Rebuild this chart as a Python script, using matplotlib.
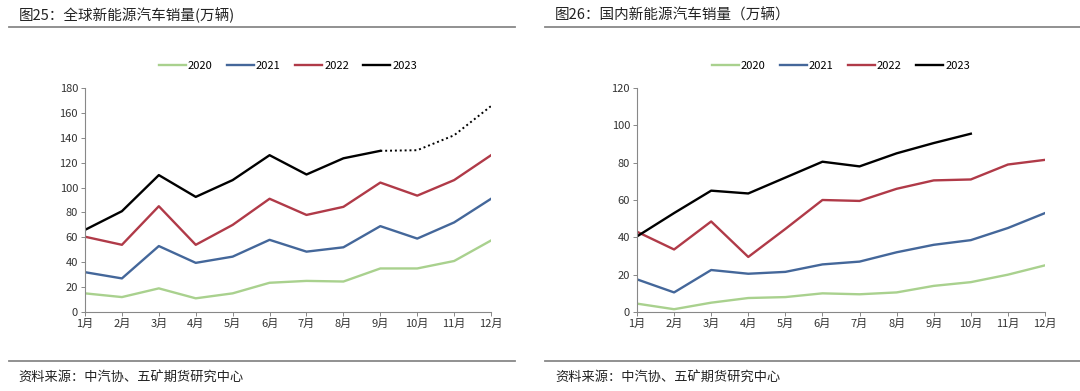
import matplotlib
matplotlib.use("Agg")
import matplotlib.pyplot as plt

plt.rcParams['font.family'] = ['Noto Sans CJK SC', 'DejaVu Sans']

months = ["1月", "2月", "3月", "4月", "5月", "6月", "7月", "8月", "9月", "10月", "11月", "12月"]
years = ["2020", "2021", "2022", "2023"]
colors = ["#A9D18E", "#44679A", "#B03A48", "#000000"]

# 图25 全球
global_2020 = [15, 12, 19, 11, 15, 23.5, 25, 24.5, 35, 35, 41, 57.5]
global_2021 = [32, 27, 53, 39.5, 44.5, 58, 48.5, 52, 69, 59, 72, 91]
global_2022 = [60.5, 54, 85, 54, 70, 91, 78, 84.5, 104, 93.5, 106, 126]
global_2023 = [66, 81, 110, 92.5, 106, 126, 110.5, 123.5, 129.5]
global_2023_est = [129.5, 130, 142, 165.5]  # 9-12月 虚线

# 图26 国内
china_2020 = [4.5, 1.5, 5, 7.5, 8, 10, 9.5, 10.5, 14, 16, 20, 25]
china_2021 = [17.5, 10.5, 22.5, 20.5, 21.5, 25.5, 27, 32, 36, 38.5, 45, 53]
china_2022 = [43, 33.5, 48.5, 29.5, 44.5, 60, 59.5, 66, 70.5, 71, 79, 81.5]
china_2023 = [40.5, 53, 65, 63.5, 72, 80.5, 78, 85, 90.5, 95.5]

fig = plt.figure(figsize=(10.8, 3.91), dpi=100)


def draw_panel(ax, series, ymax, step):
    for name, vals, c in zip(years, series, colors):
        ax.plot(range(len(vals)), vals, color=c, lw=1.7, label=name)
    ax.set_xlim(0, 11)
    ax.set_ylim(0, ymax)
    ax.set_yticks(range(0, ymax + 1, step))
    ax.set_xticks(range(12))
    ax.set_xticklabels(months)
    for s in ["top", "right"]:
        ax.spines[s].set_visible(False)
    for s in ["left", "bottom"]:
        ax.spines[s].set_color("#888888")
        ax.spines[s].set_linewidth(0.8)
    ax.tick_params(axis="both", labelsize=8, colors="#333333", length=3, width=0.7, pad=2)
    ax.tick_params(axis="both", color="#888888")
    ax.legend(loc="lower center", bbox_to_anchor=(0.5, 1.03), ncol=4, frameon=False,
              fontsize=8, handlelength=2.4, handletextpad=0.2, columnspacing=1.3)


ax1 = fig.add_axes([0.0787, 0.202, 0.376, 0.573])
draw_panel(ax1, [global_2020, global_2021, global_2022, global_2023], 180, 20)
ax1.plot(range(8, 12), global_2023_est, color="#000000", lw=1.4, ls=(0, (1, 1.5)))

ax2 = fig.add_axes([0.5898, 0.202, 0.3778, 0.573])
draw_panel(ax2, [china_2020, china_2021, china_2022, china_2023], 120, 20)

# 标题、分隔线、资料来源
for x0, x1, title in [(0.008, 0.477, "图25：全球新能源汽车销量(万辆)"),
                      (0.505, 1.0, "图26：国内新能源汽车销量（万辆）")]:
    fig.text(x0 + 0.009, 0.960, title, fontsize=10.5, fontweight="medium",
             color="#222222", va="center")
    fig.add_artist(plt.Line2D([x0, x1], [0.932, 0.932], color="#888888", lw=1.3))
    fig.add_artist(plt.Line2D([x0, x1], [0.077, 0.077], color="#888888", lw=1.3))
    fig.text(x0 + 0.009, 0.036, "资料来源：中汽协、五矿期货研究中心", fontsize=9.5,
             color="#222222", va="center")

fig.savefig("out.png", dpi=100)
